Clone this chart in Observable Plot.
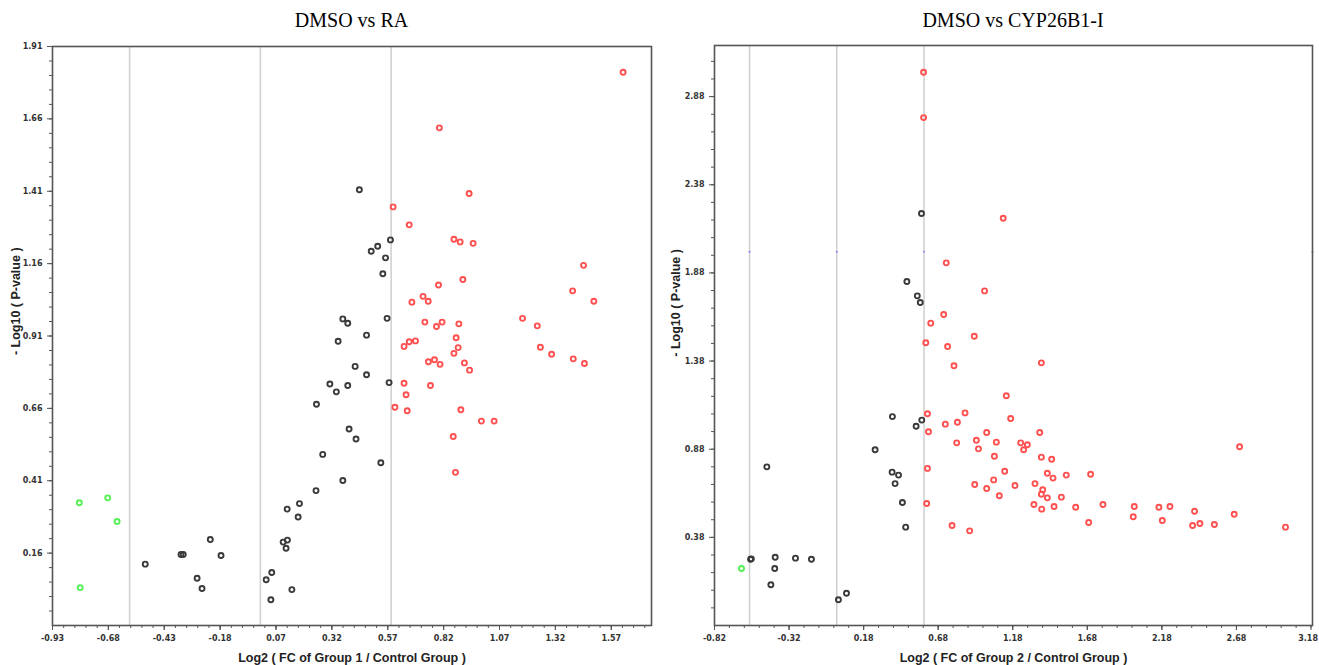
<!DOCTYPE html>
<html>
<head>
<meta charset="utf-8">
<script src="https://cdn.jsdelivr.net/npm/d3@7"></script>
<script src="https://cdn.jsdelivr.net/npm/@observablehq/plot@0.6"></script>
<style>
  body { margin: 0; background: #fff; }
  #wrap { position: relative; width: 1319px; height: 665px; overflow: hidden; background: #fff; }
  .title { position: absolute; top: 0; height: 40px; line-height: 40px; text-align: center;
           font-family: "Liberation Serif", "Times New Roman", serif; font-size: 20px; color: #000; }
  .panel { position: absolute; top: 40px; }
</style>
</head>
<body>
<div id="wrap">
  <div class="title" style="left:52px;width:599px;">DMSO vs RA</div>
  <div class="title" style="left:714px;width:598px;">DMSO vs CYP26B1-I</div>
  <div class="panel" id="p1" style="left:0px"></div>
  <div class="panel" id="p2" style="left:660px"></div>
</div>
<script>
// ---------- DATA: DMSO vs RA  ([log2 FC, -log10 p]) ----------
const raUp = [
  [0.934,1.402],[0.594,1.356],[0.666,1.294],[0.866,1.244],[0.894,1.235],[0.952,1.230],
  [1.446,1.154],[1.397,1.066],[1.492,1.030],[0.906,1.105],[0.797,1.086],[0.728,1.047],
  [0.751,1.030],[0.678,1.027],[1.173,0.971],[1.239,0.945],[0.736,0.958],[0.813,0.958],
  [0.788,0.943],[0.888,0.952],[0.876,0.904],[0.643,0.874],[0.666,0.890],[0.694,0.893],
  [0.885,0.870],[0.866,0.850],[1.253,0.871],[1.303,0.847],[1.400,0.831],[1.450,0.815],
  [0.752,0.821],[0.779,0.828],[0.804,0.812],[0.913,0.817],[0.936,0.792],[0.643,0.747],
  [0.761,0.739],[0.652,0.707],[0.602,0.664],[0.657,0.652],[0.897,0.655],[0.989,0.616],
  [1.046,0.616],[0.863,0.563],[0.873,0.439],[1.623,1.821],[0.801,1.629]
];
const raNs = [
  [0.443,1.415],[0.582,1.242],[0.525,1.220],[0.496,1.203],[0.560,1.180],[0.548,1.125],
  [0.369,0.969],[0.391,0.954],[0.567,0.971],[0.475,0.913],[0.348,0.892],[0.424,0.805],
  [0.475,0.776],[0.576,0.749],[0.311,0.744],[0.391,0.739],[0.340,0.717],[0.251,0.674],
  [0.397,0.589],[0.428,0.554],[0.279,0.501],[0.539,0.472],[0.369,0.411],[-0.515,0.122],
  [-0.355,0.155],[-0.345,0.155],[-0.224,0.207],[-0.176,0.152],[-0.283,0.073],[-0.261,0.038],
  [0.026,0.068],[0.051,0.093],[0.047,-0.001],[0.141,0.034],[0.102,0.198],[0.121,0.205],
  [0.115,0.177],[0.120,0.312],[0.175,0.331],[0.169,0.285],[0.249,0.376]
];
const raDown = [[-0.810,0.334],[-0.683,0.351],[-0.641,0.269],[-0.806,0.041]];

// ---------- DATA: DMSO vs CYP26B1-I ----------
const cypUp = [
  [0.582,3.018],[0.582,2.761],[1.116,2.190],[0.734,1.937],[0.991,1.778],[0.717,1.644],
  [0.630,1.595],[0.922,1.521],[0.597,1.484],[0.743,1.463],[0.786,1.353],[1.372,1.370],
  [1.137,1.183],[0.608,1.081],[0.860,1.086],[1.166,1.054],[0.728,1.022],[0.809,1.033],
  [0.615,0.979],[1.005,0.975],[1.361,0.975],[0.804,0.916],[0.936,0.931],[0.950,0.882],
  [1.070,0.920],[1.233,0.916],[1.278,0.905],[1.253,0.877],[1.057,0.840],[1.372,0.835],
  [1.441,0.823],[2.701,0.894],[0.608,0.771],[1.126,0.755],[1.412,0.744],[1.450,0.716],
  [1.539,0.733],[1.702,0.738],[1.052,0.706],[0.925,0.680],[1.005,0.657],[1.195,0.674],
  [1.329,0.685],[1.381,0.650],[1.372,0.625],[1.412,0.604],[1.506,0.608],[1.090,0.616],
  [0.603,0.572],[1.322,0.566],[1.374,0.540],[1.457,0.555],[1.602,0.551],[1.785,0.566],
  [1.995,0.555],[2.160,0.551],[2.234,0.555],[2.399,0.528],[2.665,0.511],[1.988,0.497],
  [2.183,0.476],[1.689,0.464],[2.386,0.447],[2.435,0.459],[2.532,0.453],[3.009,0.438],
  [0.773,0.447],[0.891,0.417]
];
const cypNs = [
  [0.568,2.217],[0.470,1.831],[0.540,1.750],[0.560,1.712],[0.373,1.065],[0.570,1.045],
  [0.532,1.010],[0.257,0.877],[0.371,0.750],[0.414,0.733],[0.391,0.685],[0.440,0.578],
  [0.462,0.438],[-0.469,0.780],[-0.578,0.256],[-0.573,0.258],[-0.413,0.267],[-0.416,0.203],
  [-0.442,0.111],[-0.277,0.262],[-0.170,0.256],[0.011,0.026],[0.065,0.063]
];
const cypDown = [[-0.639,0.203]];

// ---------- axes / guides ----------
const raXTicks  = [-0.93,-0.68,-0.43,-0.18,0.07,0.32,0.57,0.82,1.07,1.32,1.57];
const raYTicks  = [0.16,0.41,0.66,0.91,1.16,1.41,1.66,1.91];
const cypXTicks = [-0.82,-0.32,0.18,0.68,1.18,1.68,2.18,2.68,3.18];
const cypYTicks = [0.38,0.88,1.38,1.88,2.38,2.88];
const fcCutoffs = [-0.585, 0, 0.585];
const pGuide = 2.0;

const minor = (start, step, max) => d3.range(0, 200).map(i => +(start + step * i).toFixed(3)).filter(v => v <= max + 1e-9);

function panel(o) {
  const fmt = d => d.toFixed(2);
  const labelled = o.edgeTick == null ? o.xTicks : o.xTicks.filter(t => t !== o.edgeTick);
  const marks = [
    Plot.ruleX(fcCutoffs, {stroke: "#cfcfcf", strokeWidth: 1.5}),
  ];
  if (o.guide) marks.push(Plot.dot(o.guide, {x: d => d[0], y: d => d[1], r: 1.1, fill: "#8a8aff", stroke: "none"}));
  marks.push(
    Plot.dot(o.ns,   {x: d => d[0], y: d => d[1], r: 2.5, stroke: "#3a3a3a", strokeWidth: 1.9, fill: "none"}),
    Plot.dot(o.down, {x: d => d[0], y: d => d[1], r: 2.5, stroke: "#55f055", strokeWidth: 1.9, fill: "none"}),
    Plot.dot(o.up,   {x: d => d[0], y: d => d[1], r: 2.5, stroke: "#ff5050", strokeWidth: 1.9, fill: "none"}),
    Plot.frame({stroke: "#555", strokeWidth: 1.6}),
    Plot.axisX(o.xMinor, {tickSize: 3, tickFormat: () => "", stroke: "#555", label: null}),
    Plot.axisY(o.yMinor, {tickSize: 3, tickFormat: () => "", stroke: "#555", label: null}),
    Plot.axisX(o.xTicks, {tickSize: 5, tickFormat: () => "", stroke: "#555", label: null}),
    Plot.axisX(labelled, {tickSize: 5, tickPadding: 5, tickFormat: fmt, stroke: "#555", fill: "#333", label: null}),
    Plot.axisY(o.yTicks, {tickSize: 5, tickPadding: 5, tickFormat: fmt, stroke: "#555", fill: "#333", label: null}),
    Plot.text([o.xLabel], {frameAnchor: "bottom", dy: 32, lineAnchor: "middle", fontFamily: "Liberation Sans",
      fontSize: 12.5, fontWeight: "bold", fill: "#222"}),
    Plot.text(["- Log10 ( P-value )"], {x: o.xDomain[0], y: o.yLabelAt, dx: o.yLabelDx, rotate: -90,
      textAnchor: "middle", lineAnchor: "middle", fontFamily: "Liberation Sans", fontSize: 12.5, fontWeight: "bold", fill: "#222"})
  );
  if (o.edgeTick != null) {
    marks.push(Plot.text([o.edgeTick], {x: d => d, frameAnchor: "bottom", dy: 10, dx: 7, lineAnchor: "top",
      textAnchor: "end", text: fmt, fill: "#333"}));
  }
  return Plot.plot({
    width: o.width, height: 625,
    marginLeft: o.ml, marginRight: o.mr, marginTop: o.mt, marginBottom: 40,
    x: {domain: o.xDomain, label: null},
    y: {domain: o.yDomain, label: null},
    style: {fontFamily: "DejaVu Sans", fontSize: "8px", fontWeight: "bold", background: "#fff", overflow: "hidden"},
    marks
  });
}

document.getElementById("p1").appendChild(panel({
  width: 660, ml: 52, mr: 9, mt: 6,
  xDomain: [-0.93, 1.75], yDomain: [-0.09, 1.91],
  xTicks: raXTicks, yTicks: raYTicks,
  xMinor: minor(-0.93, 0.05, 1.75), yMinor: minor(-0.04, 0.05, 1.91),
  up: raUp, ns: raNs, down: raDown,
  xLabel: "Log2 ( FC of Group 1 / Control Group )",
  yLabelAt: 1.03, yLabelDx: -37
}));

document.getElementById("p2").appendChild(panel({
  width: 659, ml: 54, mr: 7, mt: 5,
  xDomain: [-0.82, 3.19], yDomain: [-0.12, 3.17],
  xTicks: cypXTicks, yTicks: cypYTicks, edgeTick: 3.18,
  xMinor: minor(-0.82, 0.1, 3.19), yMinor: minor(-0.02, 0.1, 3.17),
  up: cypUp, ns: cypNs, down: cypDown,
  guide: [[-0.585, pGuide], [0, pGuide], [0.585, pGuide], [3.19, pGuide]],
  xLabel: "Log2 ( FC of Group 2 / Control Group )",
  yLabelAt: 1.71, yLabelDx: -39
}));
</script>
</body>
</html>
